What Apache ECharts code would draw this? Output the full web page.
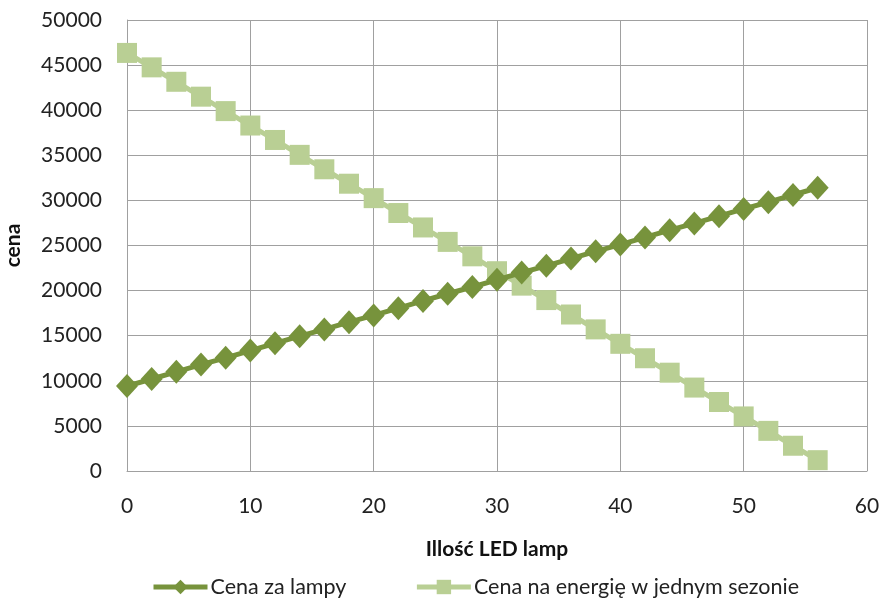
<!DOCTYPE html>
<html><head><meta charset="utf-8">
<script src="https://cdn.jsdelivr.net/npm/echarts@6/dist/echarts.min.js"></script>
<style>html,body{margin:0;padding:0;background:#fff}#c{width:885px;height:600px}</style>
</head><body><div id="c"></div>
<script>
const xValues = [0,2,4,6,8,10,12,14,16,18,20,22,24,26,28,30,32,34,36,38,40,42,44,46,48,50,52,54,56];
const lampCost = [9420,10200,11000,11800,12550,13350,14150,14950,15700,16500,17250,18050,18850,19650,20400,21200,22000,22750,23550,24350,25100,25900,26700,27450,28250,29050,29800,30600,31400];
const energyCost = [46350,44750,43150,41500,39900,38300,36700,35050,33450,31850,30250,28600,27000,25400,23800,22150,20550,18950,17350,15700,14100,12500,10900,9250,7650,6050,4450,2800,1200];
const seriesNames = ['Cena za lampy','Cena na energię w jednym sezonie'];
const FONT = 'Lato, "Open Sans", sans-serif';
const chart = echarts.init(document.getElementById('c'));
chart.setOption({
  animation:false,
  textStyle:{fontFamily:FONT},
  grid:{left:127,right:18,top:20,bottom:129,containLabel:false,outerBoundsMode:'none'},
  legend:{top:571,left:146,itemWidth:54,itemHeight:18,itemGap:68,
    lineStyle:{width:5},
    textStyle:{fontSize:21.5,color:'#222',fontFamily:FONT,padding:[0,0,0,-2]},
    data:seriesNames},
  xAxis:{type:'value',min:0,max:60,interval:10,
    name:'Illość LED lamp',nameLocation:'middle',nameGap:68,
    nameTextStyle:{fontSize:21,fontWeight:'bold',color:'#111',fontFamily:FONT},
    axisLine:{show:true,lineStyle:{color:'#a0a0a0',width:1}},
    axisTick:{show:false},
    axisLabel:{fontSize:21,color:'#222',margin:25,fontFamily:FONT},
    splitLine:{show:true,lineStyle:{color:'#a0a0a0',width:1}}},
  yAxis:{type:'value',min:0,max:50000,interval:5000,
    name:'cena',nameLocation:'middle',nameGap:103,nameRotate:90,
    nameTextStyle:{fontSize:21,fontWeight:'bold',color:'#111',fontFamily:FONT},
    axisLine:{show:true,lineStyle:{color:'#a0a0a0',width:1}},
    axisTick:{show:false},
    axisLabel:{fontSize:21,color:'#222',margin:25,fontFamily:FONT,formatter:v=>String(v)},
    splitLine:{show:true,lineStyle:{color:'#a0a0a0',width:1}}},
  series:[
    {name:seriesNames[0],type:'line',data:xValues.map((x,i)=>[x,lampCost[i]]),
     symbol:'diamond',symbolSize:[22,24],z:3,
     itemStyle:{color:'#77933c'},lineStyle:{color:'#77933c',width:5}},
    {name:seriesNames[1],type:'line',data:xValues.map((x,i)=>[x,energyCost[i]]),
     symbol:'rect',symbolSize:20,z:2,
     itemStyle:{color:'#b9cf94'},lineStyle:{color:'#b9cf94',width:5}}
  ]
});
</script></body></html>
